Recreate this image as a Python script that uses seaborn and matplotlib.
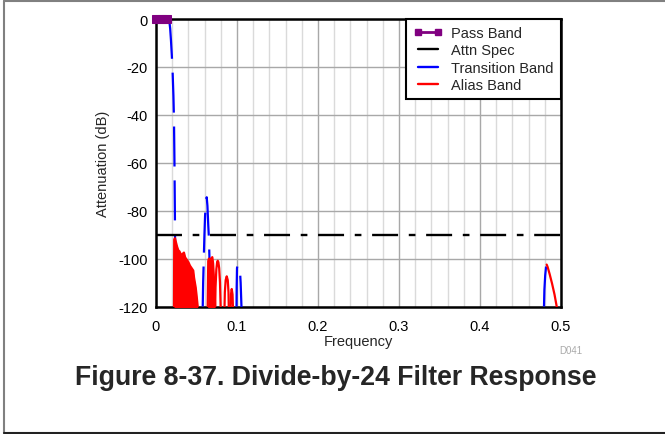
import numpy as np
import pandas as pd
import matplotlib
matplotlib.use("Agg")
import matplotlib.pyplot as plt
import seaborn as sns
from matplotlib.lines import Line2D

# ---------------- data ----------------
pass_freq = [0.0, 0.0035, 0.007, 0.0105, 0.014]
pass_db = [0, 0, 0, 0, 0]

spec_freq = [0.0, 0.5]
spec_db = [-90, -90]

trans1_freq = [0.0155, 0.0165, 0.0175, 0.0185, 0.0195, 0.0205, 0.0215, 0.0222, 0.0228, 0.0233, 0.0237, 0.0240]
trans1_db = [0, -1, -4, -9, -15, -22, -32, -42, -60, -80, -100, -125]
trans2_freq = [0.0577, 0.0582, 0.0590, 0.0598, 0.0606, 0.0616, 0.0626, 0.0635, 0.0645, 0.0654, 0.0660, 0.0665, 0.0670]
trans2_db = [-120, -110, -100, -90, -82, -76.5, -74.4, -78, -86, -92, -100, -110, -125]
trans3_freq = [0.0994, 0.0996, 0.1000, 0.1007, 0.1017, 0.1025, 0.1035, 0.1045, 0.1055, 0.1060]
trans3_db = [-120, -112, -104, -102.7, -102.5, -103, -104, -110, -120, -125]
trans4_freq = [0.4790, 0.4795, 0.4805, 0.4815, 0.4823]
trans4_db = [-120, -113, -107, -103.5, -102.5]

# dense side-lobe clusters (envelopes of the filled regions)
alias1_freq = [0.0222, 0.0225, 0.0235, 0.0245, 0.0260, 0.0275, 0.0290, 0.0310, 0.0330, 0.0345,
               0.0360, 0.0380, 0.0400, 0.0420, 0.0440, 0.0460, 0.0470, 0.0480, 0.0490, 0.0500, 0.0515, 0.0520]
alias1_db = [-120, -92, -91.5, -93, -95, -96.5, -97, -98.5, -98, -97.5,
             -99.5, -100.5, -101.5, -103, -104, -105, -108, -110, -112, -115, -120, -125]
alias2_freq = [0.0638, 0.0645, 0.0654, 0.0660, 0.0670, 0.0680, 0.0695, 0.0705, 0.0715, 0.0725, 0.0730]
alias2_db = [-120, -101, -100, -102, -101, -100, -99.4, -102, -108, -115, -120]
# isolated side lobes
alias3_freq = [0.0728, 0.0735, 0.0745, 0.0755, 0.0762, 0.0770, 0.0780, 0.0790, 0.0802]
alias3_db = [-125, -112, -104.5, -101.5, -100.9, -101.5, -104, -110, -125]
alias4_freq = [0.0843, 0.0850, 0.0860, 0.0873, 0.0886, 0.0895, 0.0901]
alias4_db = [-125, -114, -109, -107.4, -109, -114, -125]
alias5_freq = [0.0914, 0.0925, 0.0935, 0.0945, 0.0954]
alias5_db = [-125, -115, -112.7, -115, -125]
alias6_freq = [0.4823, 0.4835, 0.4860, 0.4890, 0.4920, 0.4947, 0.4950]
alias6_db = [-102.5, -103.5, -106.5, -110.5, -115, -120, -122]

x_ticks = [0, 0.1, 0.2, 0.3, 0.4, 0.5]
x_ticklabels = ["0", "0.1", "0.2", "0.3", "0.4", "0.5"]
y_ticks = [0, -20, -40, -60, -80, -100, -120]
y_ticklabels = ["0", "-20", "-40", "-60", "-80", "-100", "-120"]

legend_labels = ["Pass Band", "Attn Spec", "Transition Band", "Alias Band"]

# ---------------- style ----------------
sns.set_style("white")
plt.rcParams["font.family"] = ["Liberation Sans", "DejaVu Sans"]
plt.rcParams["axes.unicode_minus"] = False
plt.rcParams["lines.scale_dashes"] = False

PURPLE = "#800080"
BLUE = "#0000ff"
RED = "#ff0000"


def seg_frame(pairs):
    rows = []
    for i, (fx, dy) in enumerate(pairs):
        for a, b in zip(fx, dy):
            rows.append({"f": a, "db": b, "seg": i})
    return pd.DataFrame(rows)


fig = plt.figure(figsize=(6.65, 4.35), dpi=100)
ax = fig.add_axes([156 / 665, 1 - 307.5 / 435, (561 - 156) / 665, (307.5 - 20) / 435])

# grid
ax.set_axisbelow(True)
ax.set_xticks(np.arange(0, 0.5001, 0.02), minor=True)
ax.grid(which="minor", axis="x", color="#dadada", lw=1.0)
ax.grid(which="major", axis="both", color="#a8a8a8", lw=1.0)

# transition band (dashed)
trans_df = seg_frame([(trans1_freq, trans1_db), (trans2_freq, trans2_db),
                      (trans3_freq, trans3_db), (trans4_freq, trans4_db)])
n1 = len(ax.lines)
sns.lineplot(data=trans_df, x="f", y="db", units="seg", estimator=None, color=BLUE, lw=1.6,
             legend=False, ax=ax, zorder=3)
for ln in ax.lines[n1:]:
    ln.set_dashes([28.8, 10])

# alias band fills (dense lobes)
for fx, dy in [(alias1_freq, alias1_db), (alias2_freq, alias2_db)]:
    ax.fill_between(fx, dy, -130, color=RED, lw=0, zorder=4)

# alias band lines
alias_df = seg_frame([(alias1_freq, alias1_db), (alias2_freq, alias2_db), (alias3_freq, alias3_db),
                      (alias4_freq, alias4_db), (alias5_freq, alias5_db), (alias6_freq, alias6_db)])
sns.lineplot(data=alias_df, x="f", y="db", units="seg", estimator=None, color=RED, lw=1.6,
             legend=False, ax=ax, zorder=4)

# attenuation spec
n2 = len(ax.lines)
sns.lineplot(x=spec_freq, y=spec_db, color="black", lw=1.7, legend=False, ax=ax, zorder=5)
for ln in ax.lines[n2:]:
    ln.set_dashes([18.7, 7.7, 4.8, 7.7])

# pass band
n3 = len(ax.lines)
sns.lineplot(x=pass_freq, y=pass_db, color=PURPLE, lw=4, marker="s", markersize=5.5,
             markeredgecolor=PURPLE, legend=False, ax=ax, zorder=6)
for ln in ax.lines[n3:]:
    ln.set_clip_on(False)

ax.set_xlim(0, 0.5)
ax.set_ylim(-120, 0)
ax.set_xticks(x_ticks)
ax.set_xticklabels(x_ticklabels)
ax.set_yticks(y_ticks)
ax.set_yticklabels(y_ticklabels)
ax.tick_params(axis="both", which="both", length=0, labelsize=10.5, colors="black")
ax.tick_params(axis="x", pad=9)
ax.tick_params(axis="y", pad=6)
ax.set_xlabel("Frequency", fontsize=10.5, labelpad=1)
ax.set_ylabel("Attenuation (dB)", fontsize=10.5, labelpad=6)
for sp in ax.spines.values():
    sp.set_color("black")
    sp.set_linewidth(1.8)
    sp.set_visible(True)

handles = [
    Line2D([0], [0], color=PURPLE, lw=2, marker="s", markersize=4),
    Line2D([0], [0], color="black", lw=1.7),
    Line2D([0], [0], color=BLUE, lw=1.7),
    Line2D([0], [0], color=RED, lw=1.7),
]
leg = ax.legend(handles, legend_labels, loc="upper right", bbox_to_anchor=(1, 1), borderaxespad=0,
                fontsize=10.5, frameon=True, fancybox=False, numpoints=2, handlelength=2.0,
                handletextpad=0.6, labelspacing=0.22, borderpad=0.5)
leg.get_frame().set_edgecolor("black")
leg.get_frame().set_linewidth(1.5)
leg.get_frame().set_alpha(1)

fig.text(571 / 665, 1 - 351 / 435, "D041", fontsize=7, color="#aaaaaa", ha="center", va="center")
fig.text(336 / 665, 1 - 378 / 435, "Figure 8-37. Divide-by-24 Filter Response", fontsize=19.2,
         fontweight="bold", ha="center", va="center")

# outer frame
fig.add_artist(Line2D([3.7 / 665, 3.7 / 665], [1 - 1.8 / 435, 1 - 433.5 / 435], color="#808080", lw=1.5,
                      transform=fig.transFigure))
fig.add_artist(Line2D([3.7 / 665, 1.0], [1 - 1.8 / 435, 1 - 1.8 / 435], color="#808080", lw=1.5,
                      transform=fig.transFigure))
fig.add_artist(Line2D([3.7 / 665, 1.0], [1 - 433.5 / 435, 1 - 433.5 / 435], color="#222222", lw=1.5,
                      transform=fig.transFigure))

fig.savefig("out.png", dpi=100)
